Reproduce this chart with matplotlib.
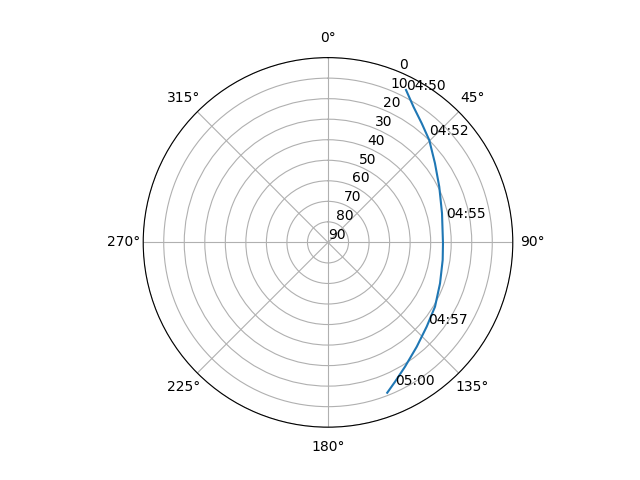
import numpy as np
import matplotlib
matplotlib.use('Agg')
import matplotlib.pyplot as plt

# satellite pass: azimuth (deg) and elevation (deg)
azimuth = [27.1, 32.2, 38.2, 44.7, 53.5, 63.4, 75.7, 90.4, 98.7, 110.1,
           121.0, 130.5, 139.6, 148.2, 154.3, 158.5]
elevation = [6.6, 11.9, 16.2, 19.9, 25.2, 29.4, 32.7, 34.0, 33.5, 31.9,
             29.2, 26.8, 23.3, 18.8, 14.7, 11.3]

# time marks along the track
label_times = ['04:50', '04:52', '04:55', '04:57', '05:00']
label_az = [27.1, 43.2, 78.5, 129.3, 154.8]
label_el = [6.6, 18.3, 31.3, 27.3, 13.2]

fig = plt.figure(figsize=(6.4, 4.8), dpi=100)
ax = fig.add_subplot(projection='polar')
ax.set_theta_zero_location('N')
ax.set_theta_direction(-1)

ax.plot(np.radians(azimuth), elevation)
for t, a, e in zip(label_times, label_az, label_el):
    ax.text(np.radians(a), e, t)

ax.set_ylim(90, 0)
ax.set_yticks(range(0, 91, 10))

fig.savefig('out.png')
